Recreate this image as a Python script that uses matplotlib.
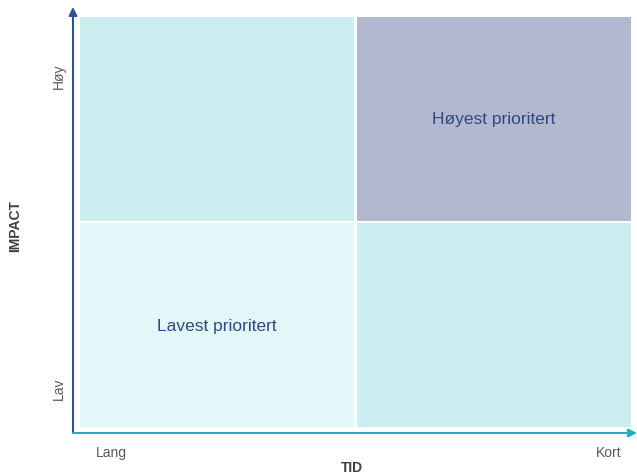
import matplotlib.pyplot as plt

plt.rcParams["font.family"] = ["Liberation Sans", "DejaVu Sans"]

# ─── DATA ────────────────────────────────────────────────
cell_x = [0, 1, 0, 1]          # column (TID: Lang -> Kort)
cell_y = [1, 1, 0, 0]          # row (IMPACT: Lav -> Høy)
cell_colors = ["#cceef0", "#b1b8cf", "#e3f6f8", "#cdeef0"]
cell_labels = ["", "Høyest prioritert", "Lavest prioritert", ""]

x_ticks = [0.117, 1.915]
x_tick_labels = ["Lang", "Kort"]
y_ticks = [0.195, 1.71]
y_tick_labels = ["Lav", "Høy"]

GAP = 0.006
TEXT_GRAY = "#595959"
LABEL_BLUE = "#2e4a80"

# ─── PLOT ────────────────────────────────────────────────
W, H = 637, 477
fig = plt.figure(figsize=(W / 100, H / 100), dpi=100)
ax = fig.add_axes([73 / W, (H - 434) / H, (W - 73) / W, (434 - 8) / H])
ax.set_xlim(-0.02, 2.016)
ax.set_ylim(-0.022, 2.04)

for cx, cy, col, lbl in zip(cell_x, cell_y, cell_colors, cell_labels):
    ax.bar(cx + 0.5, 1 - 2 * GAP, width=1 - 2 * GAP, bottom=cy + GAP,
           color=col, linewidth=0)
    if lbl:
        ax.text(cx + 0.5, cy + 0.5, lbl,
                ha="center", va="center", fontsize=12.5, color=LABEL_BLUE)

for s in ax.spines.values():
    s.set_visible(False)

# axis arrows
ax.annotate("", xy=(0, 1), xytext=(0, 0), xycoords="axes fraction",
            arrowprops=dict(arrowstyle="-|>", color="#2f4f9d", lw=1.5,
                            mutation_scale=12, shrinkA=0, shrinkB=0))
ax.annotate("", xy=(1, 0), xytext=(0, 0), xycoords="axes fraction",
            arrowprops=dict(arrowstyle="-|>", color="#22b0c0", lw=1.5,
                            mutation_scale=12, shrinkA=0, shrinkB=0))

ax.set_xticks(x_ticks, x_tick_labels)
ax.set_yticks(y_ticks, y_tick_labels, rotation=90, va="center")
ax.tick_params(length=0, labelsize=10, labelcolor=TEXT_GRAY)
ax.tick_params(axis="x", pad=8.5)
ax.tick_params(axis="y", pad=5)

fig.text(352 / W, 1 - 468 / H, "TID", fontsize=10, fontweight="bold",
         color="#404040", ha="center", va="center")
fig.text(15 / W, 1 - 226 / H, "IMPACT", fontsize=10, fontweight="bold",
         color="#404040", ha="center", va="center", rotation=90)

fig.savefig("out.png", dpi=100)
